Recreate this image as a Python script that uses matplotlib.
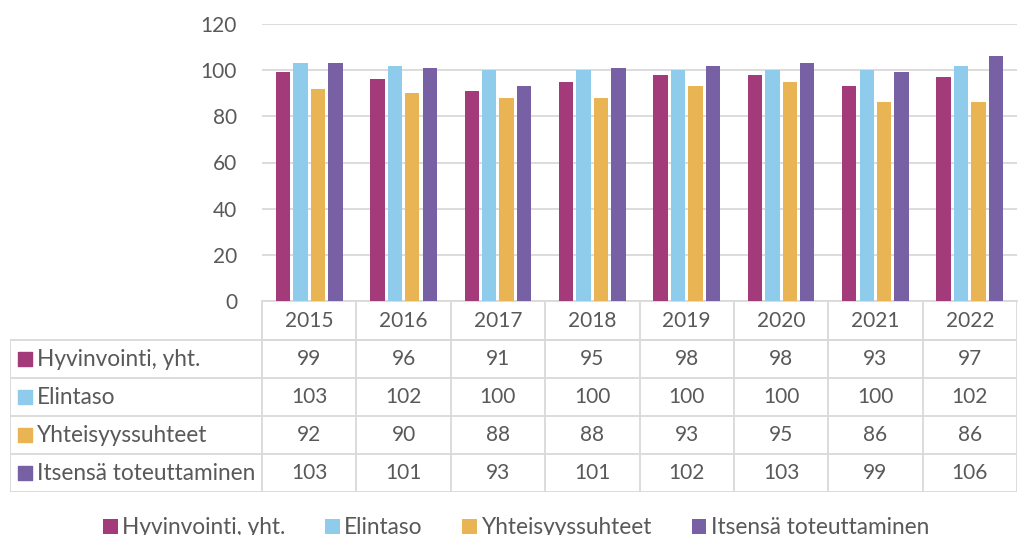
import matplotlib
matplotlib.use("Agg")
from matplotlib import pyplot as plt
import numpy as np

years = ['2015', '2016', '2017', '2018', '2019', '2020', '2021', '2022']
series_names = ['Hyvinvointi, yht.', 'Elintaso', 'Yhteisyyssuhteet', 'Itsensä toteuttaminen']
hyvinvointi = [99, 96, 91, 95, 98, 98, 93, 97]
elintaso = [103, 102, 100, 100, 100, 100, 100, 102]
yhteisyys = [92, 90, 88, 88, 93, 95, 86, 86]
itsensa = [103, 101, 93, 101, 102, 103, 99, 106]
yticks = [0, 20, 40, 60, 80, 100, 120]

values = [hyvinvointi, elintaso, yhteisyys, itsensa]
colors = ['#A33B7A', '#8FCBEB', '#E9B453', '#7760A4']
txt = '#595959'
gridc = '#D9D9D9'

plt.rcParams['font.family'] = ['Lato', 'DejaVu Sans']
W, H = 1021, 535
fig = plt.figure(figsize=(W / 100, H / 100), dpi=100)

# pixel layout
x0, x1 = 262, 1017
ytop, ybot = 24, 301
ax = fig.add_axes([x0 / W, 1 - ybot / H, (x1 - x0) / W, (ybot - ytop) / H])
n = len(years)
x = np.arange(n)
bw = 0.152
step = 0.185
for i, (vals, c) in enumerate(zip(values, colors)):
    ax.bar(x + (i - 1.5) * step, vals, width=bw, color=c, label=series_names[i], zorder=3)
ax.set_xlim(-0.5, n - 0.5)
ax.set_ylim(0, 120)
ax.set_yticks(yticks)
ax.set_yticklabels([str(v) for v in yticks], color=txt, fontsize=15)
ax.tick_params(axis='y', length=0, pad=18)
ax.set_xticks([])
ax.grid(axis='y', color=gridc, lw=1.3, zorder=0)
for s in ['top', 'right', 'left']:
    ax.spines[s].set_visible(False)
ax.spines['bottom'].set_color(gridc)
ax.spines['bottom'].set_linewidth(1.3)

# data table
left_px = 10
row_h = 38
t_top, t_bot = 302, 302 + 5 * row_h
unit = (x1 - x0) / n
lw_units = (x0 - left_px) / unit
tax = fig.add_axes([left_px / W, 1 - t_bot / H, (x1 - left_px) / W, (t_bot - t_top) / H])
tax.set_xlim(-0.5 - lw_units, n - 0.5)
tax.set_ylim(5, 0)
tax.axis('off')
lkw = dict(color=gridc, lw=1.3, solid_capstyle='butt')
# horizontal lines
tax.plot([-0.5, n - 0.5], [1, 1], **lkw)
tax.plot([-0.5 - lw_units, n - 0.5], [1, 1], **lkw)
for r in range(2, 6):
    tax.plot([-0.5 - lw_units, n - 0.5], [r, r], **lkw)
# vertical lines
for k in range(n + 1):
    tax.plot([k - 0.5, k - 0.5], [0, 5], **lkw)
tax.plot([-0.5 - lw_units] * 2, [1, 5], **lkw)
for k, yr in enumerate(years):
    tax.text(k, 0.5, yr, ha='center', va='center', color=txt, fontsize=15)
for r, (name, vals, c) in enumerate(zip(series_names, values, colors)):
    yy = r + 1.5
    tax.scatter([-0.5 - lw_units + 15 / unit], [yy], marker='s', s=100, color=c, clip_on=False)
    tax.text(-0.5 - lw_units + 27 / unit, yy, name, ha='left', va='center', color=txt, fontsize=16.3)
    for k, v in enumerate(vals):
        tax.text(k, yy, str(v), ha='center', va='center', color=txt, fontsize=15)

# legend (cut at the bottom edge, as in the source)
handles, labels = ax.get_legend_handles_labels()
fig.legend(handles, labels, loc='center', bbox_to_anchor=(516 / W, 1 - 528 / H), ncol=4,
           frameon=False, fontsize=16.3, handlelength=0.65, handleheight=0.65,
           handletextpad=0.2, columnspacing=1.75, labelcolor=txt)

fig.savefig('out.png', dpi=100)
